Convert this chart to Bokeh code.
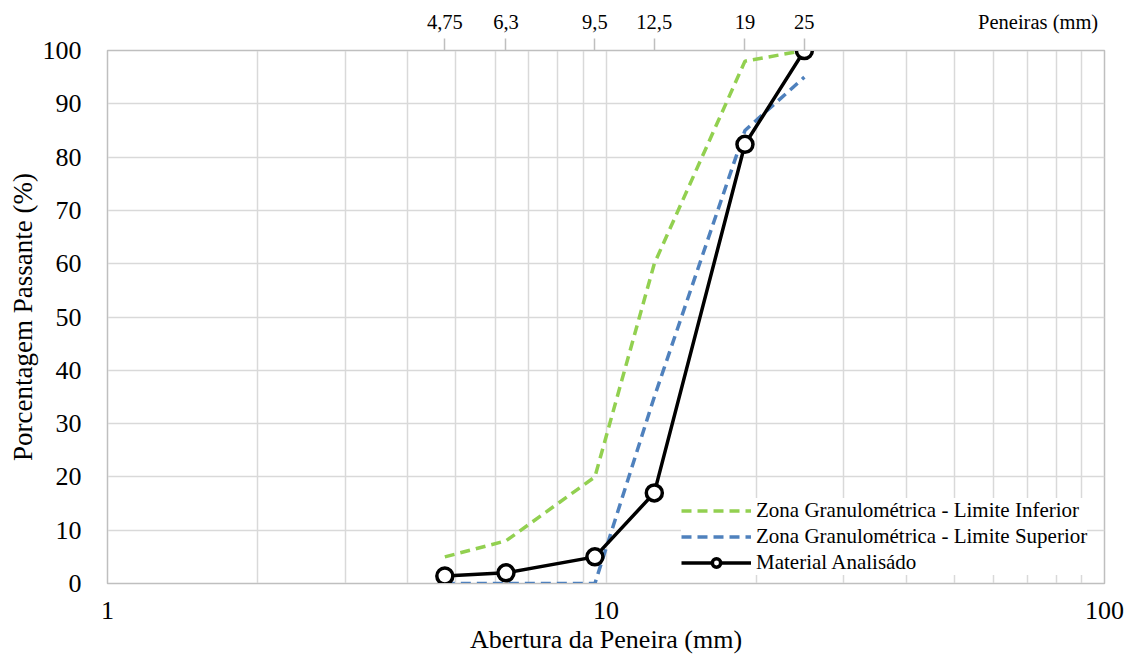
from bokeh.plotting import figure
from bokeh.models import (LogAxis, FixedTicker, Range1d, Legend, LegendItem)
from bokeh.embed import file_html
from bokeh.resources import INLINE

# Sieve openings (mm) and percentages passing
peneiras = [4.75, 6.3, 9.5, 12.5, 19, 25]
peneiras_rotulos = ["4,75", "6,3", "9,5", "12,5", "19", "25"]
limite_inferior = [5, 8, 20, 60, 98, 100]
limite_superior = [0, 0, 0, 35, 85, 95]
material = [1.4, 2, 5, 17, 82.4, 100]

y_ticks = list(range(0, 101, 10))
x_ticks = [1, 10, 100]
x_minor = [2, 3, 4, 5, 6, 7, 8, 9, 20, 30, 40, 50, 60, 70, 80, 90]

# position of the top-axis caption, in mm on the log axis
POS_LEGENDA_TOPO = 73.6

FONT = "Liberation Serif"
GRID = "#d9d9d9"
AXIS = "#bfbfbf"
GREEN = "#92d050"
BLUE = "#4f81bd"

p = figure(width=1133, height=659, x_axis_type="log",
           x_range=Range1d(1, 100), y_range=Range1d(0, 100),
           output_backend="svg", toolbar_location=None,
           min_border_left=107, min_border_right=29,
           min_border_top=50, min_border_bottom=76)
p.outline_line_color = AXIS
p.outline_line_width = 1.5

# bottom axis
xa = p.xaxis[0]
xa.ticker = FixedTicker(ticks=x_ticks, minor_ticks=x_minor)
xa.major_label_overrides = {1: "1", 10: "10", 100: "100"}
xa.axis_label = "Abertura da Peneira (mm)"
xa.axis_label_text_font = FONT
xa.axis_label_text_font_style = "normal"
xa.axis_label_text_font_size = "26px"
xa.axis_label_text_color = "black"
xa.axis_label_standoff = 3
xa.major_label_text_font = FONT
xa.major_label_text_font_size = "26px"
xa.major_label_text_color = "black"
xa.major_label_standoff = 12
xa.axis_line_color = AXIS
xa.major_tick_line_color = None
xa.minor_tick_line_color = None

# left axis
ya = p.yaxis[0]
ya.ticker = FixedTicker(ticks=y_ticks)
ya.axis_label = "Porcentagem Passante (%)"
ya.axis_label_text_font = FONT
ya.axis_label_text_font_style = "normal"
ya.axis_label_text_font_size = "27px"
ya.axis_label_text_color = "black"
ya.axis_label_standoff = 2
ya.major_label_text_font = FONT
ya.major_label_text_font_size = "26px"
ya.major_label_text_color = "black"
ya.major_label_standoff = 20
ya.axis_line_color = AXIS
ya.major_tick_line_color = None
ya.minor_tick_line_color = None

# grid
p.xgrid.grid_line_color = GRID
p.xgrid.grid_line_width = 1.5
p.xgrid.minor_grid_line_color = GRID
p.xgrid.minor_grid_line_width = 1.5
p.ygrid.grid_line_color = GRID
p.ygrid.grid_line_width = 1.5

# top axis: labels on major ticks, marks on minor ticks at each sieve
top_ticks = peneiras + [POS_LEGENDA_TOPO]
top = LogAxis(ticker=FixedTicker(ticks=top_ticks, minor_ticks=peneiras))
overrides = {v: s for v, s in zip(peneiras, peneiras_rotulos)}
overrides[POS_LEGENDA_TOPO] = "Peneiras (mm)"
top.major_label_overrides = overrides
top.major_label_text_font = FONT
top.major_label_text_font_size = "20.5px"
top.major_label_text_color = "black"
top.major_label_standoff = 6
top.major_tick_out = 0
top.major_tick_in = 0
top.major_tick_line_color = None
top.minor_tick_out = 12
top.minor_tick_in = 0
top.minor_tick_line_color = AXIS
top.minor_tick_line_width = 1.5
top.axis_line_color = AXIS
p.add_layout(top, "above")

r_inf = p.line(peneiras, limite_inferior, line_color=GREEN, line_width=3.5,
               line_dash="10 6")
r_sup = p.line(peneiras, limite_superior, line_color=BLUE, line_width=3.5,
               line_dash="10 6")
r_mat = p.line(peneiras, material, line_color="black", line_width=3.5)
r_pts = p.scatter(peneiras, material, size=16, marker="circle",
                  fill_color="white", line_color="black", line_width=3.5)

legend = Legend(items=[
    LegendItem(label="Zona Granulométrica - Limite Inferior", renderers=[r_inf]),
    LegendItem(label="Zona Granulométrica - Limite Superior", renderers=[r_sup]),
    LegendItem(label="Material Analisádo", renderers=[r_mat, r_pts]),
], location=(574, 8))
legend.label_text_font = FONT
legend.label_text_font_size = "21px"
legend.label_text_color = "black"
legend.glyph_width = 70
legend.glyph_height = 21
legend.label_height = 21
legend.label_standoff = 5
legend.spacing = 1
legend.padding = 4
legend.margin = 0
legend.border_line_color = None
legend.background_fill_color = "white"
legend.background_fill_alpha = 1.0
p.add_layout(legend, "center")

open("out.html", "w").write(file_html(p, INLINE))
